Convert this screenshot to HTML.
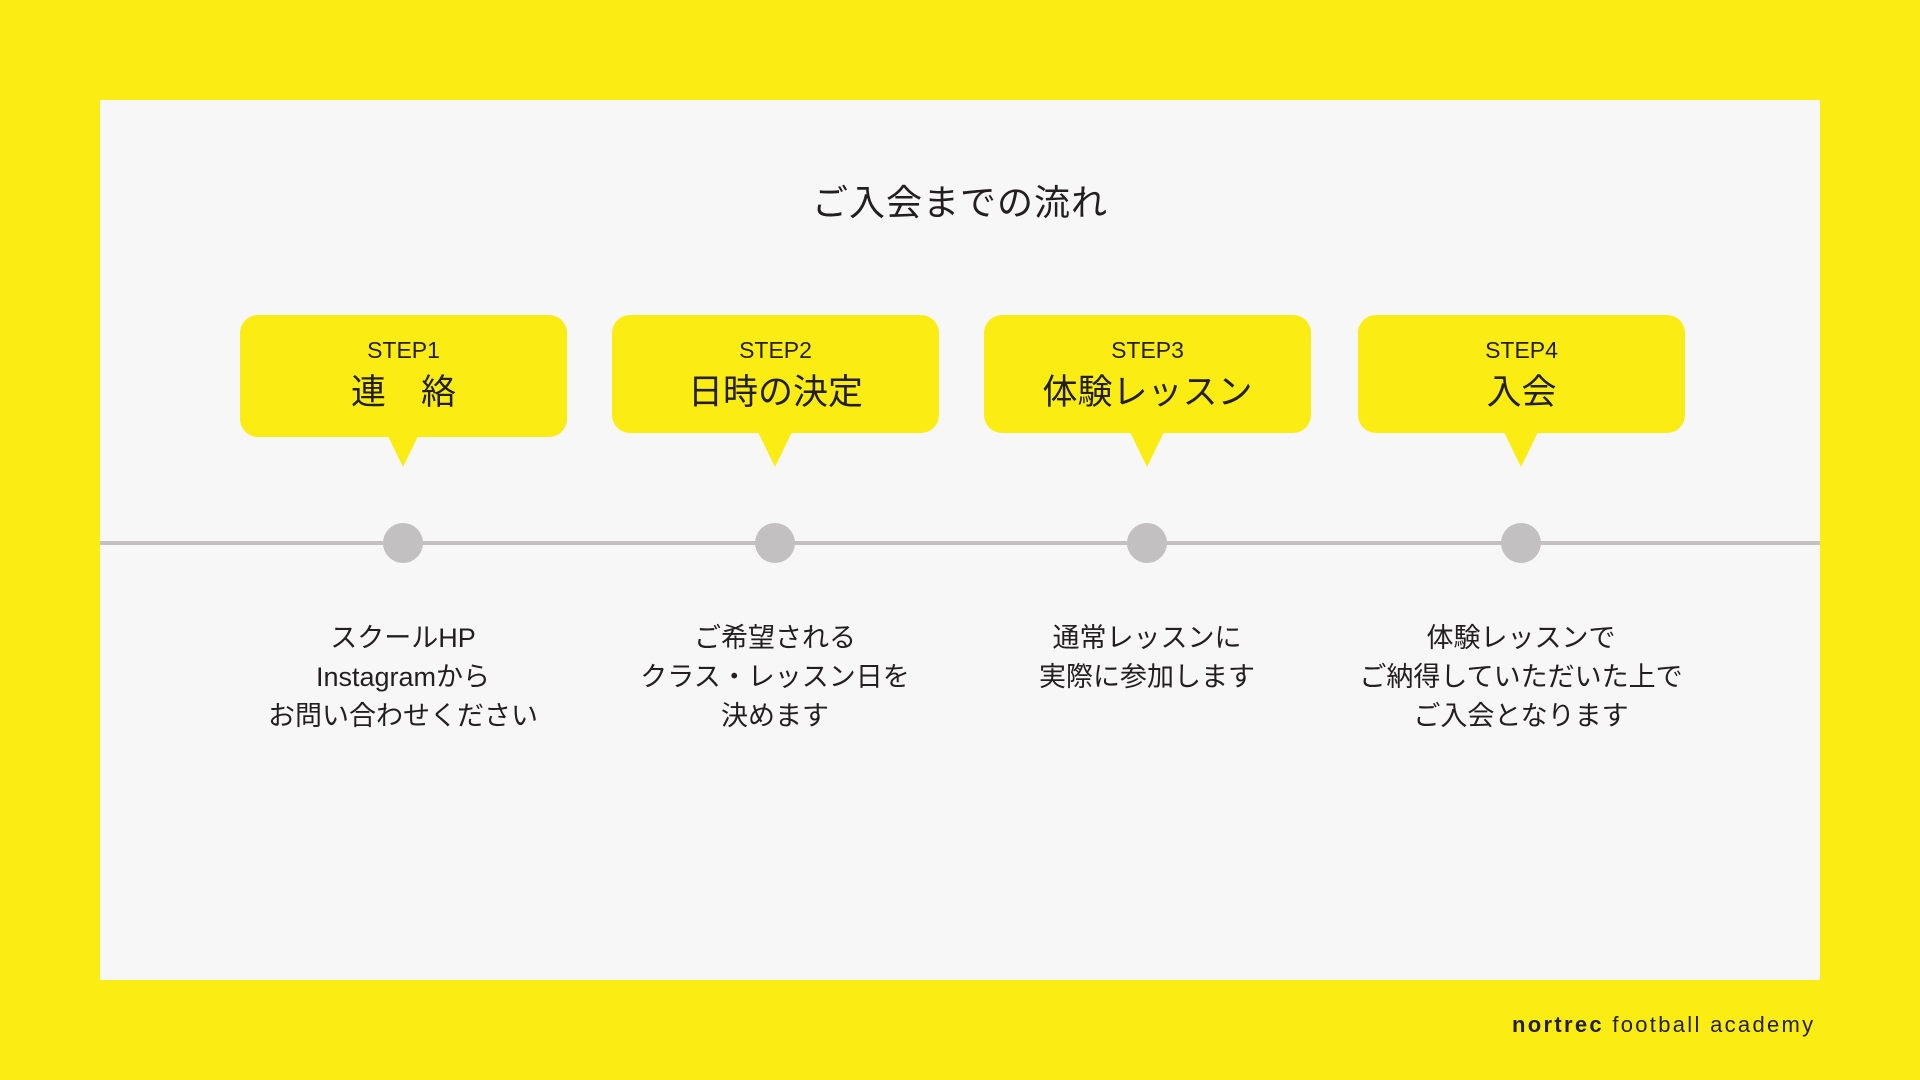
<!DOCTYPE html>
<html><head><meta charset="utf-8"><style>
*{margin:0;padding:0;box-sizing:border-box}
body{width:1920px;height:1080px;background:#fbed14;position:relative;overflow:hidden;font-family:"Liberation Sans","Noto Sans CJK JP",sans-serif;color:#231f20}
.panel{position:absolute;left:100px;top:100px;width:1720px;height:880px;background:#f7f7f7}
.title{position:absolute;left:0;width:1920px;top:181px;text-align:center;font-size:36px;line-height:44px;letter-spacing:1px}
.box{position:absolute;top:315px;width:327px;background:#fbed14;border-radius:18px;text-align:center}
.box .s{position:absolute;left:0;right:0;top:21px;font-size:23px;line-height:28px}
.box .t{position:absolute;left:0;right:0;top:56px;font-size:35px;line-height:44px}
.tri{position:absolute;top:430px;width:0;height:0;border-left:18px solid transparent;border-right:18px solid transparent;border-top:37px solid #fbed14}
.line{position:absolute;left:100px;width:1720px;top:541px;height:4px;background:#c2c0c1}
.dot{position:absolute;top:523px;width:40px;height:40px;border-radius:50%;background:#c2c0c1}
.desc{position:absolute;top:619px;width:400px;text-align:center;font-size:27px;line-height:39px}
.foot{position:absolute;left:1512px;top:1012px;font-size:22px;letter-spacing:2.3px;line-height:26px;white-space:nowrap}
</style></head><body>
<div class="panel"></div>
<div class="title">ご入会までの流れ</div>

<div class="box" style="left:240px;height:122px"><div class="s">STEP1</div><div class="t">連　絡</div></div>
<div class="box" style="left:612px;height:118px"><div class="s">STEP2</div><div class="t">日時の決定</div></div>
<div class="box" style="left:984px;height:118px"><div class="s">STEP3</div><div class="t">体験レッスン</div></div>
<div class="box" style="left:1358px;height:118px"><div class="s">STEP4</div><div class="t">入会</div></div>

<div class="tri" style="left:385px"></div>
<div class="tri" style="left:757px"></div>
<div class="tri" style="left:1129px"></div>
<div class="tri" style="left:1503px"></div>

<div class="line"></div>
<div class="dot" style="left:383px"></div>
<div class="dot" style="left:755px"></div>
<div class="dot" style="left:1127px"></div>
<div class="dot" style="left:1501px"></div>

<div class="desc" style="left:203px">スクールHP<br>Instagramから<br>お問い合わせください</div>
<div class="desc" style="left:575px">ご希望される<br>クラス・レッスン日を<br>決めます</div>
<div class="desc" style="left:947px">通常レッスンに<br>実際に参加します</div>
<div class="desc" style="left:1321px">体験レッスンで<br>ご納得していただいた上で<br>ご入会となります</div>

<div class="foot"><b>nortrec</b> football academy</div>
</body></html>
